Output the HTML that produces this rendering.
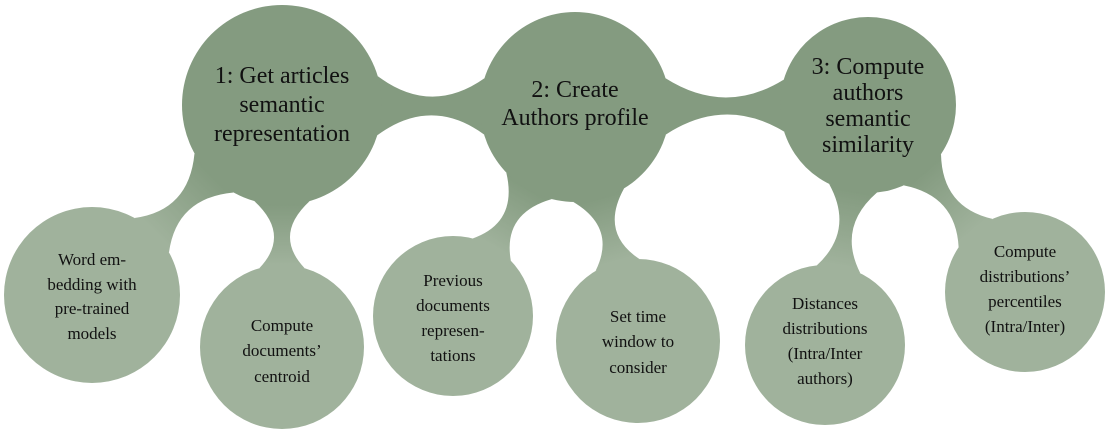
<!DOCTYPE html>
<html><head><meta charset="utf-8"><style>
html,body{margin:0;padding:0;background:#fff;}
svg{display:block;}
text{font-family:"Liberation Serif",serif;fill:#111;text-anchor:middle;}
.b{font-size:24px;}
.s{font-size:17px;}
</style></head><body>
<svg id="m" width="1108" height="437" viewBox="0 0 1108 437">
<defs id="d"></defs>
<g id="con"></g>
<g id="circ"></g>
<g>
<text class="b" x="282" y="83">1:  Get articles</text>
<text class="b" x="282" y="112">semantic</text>
<text class="b" x="282" y="141">representation</text>
<text class="b" x="575" y="97">2:  Create</text>
<text class="b" x="575" y="125">Authors profile</text>
<text class="b" x="868" y="74">3:  Compute</text>
<text class="b" x="868" y="100">authors</text>
<text class="b" x="868" y="126">semantic</text>
<text class="b" x="868" y="152">similarity</text>
<text class="s" x="92" y="265">Word em-</text>
<text class="s" x="92" y="290">bedding with</text>
<text class="s" x="92" y="314">pre-trained</text>
<text class="s" x="92" y="339">models</text>
<text class="s" x="282" y="331">Compute</text>
<text class="s" x="282" y="356">documents’</text>
<text class="s" x="282" y="382">centroid</text>
<text class="s" x="453" y="286">Previous</text>
<text class="s" x="453" y="311">documents</text>
<text class="s" x="453" y="336">represen-</text>
<text class="s" x="453" y="361">tations</text>
<text class="s" x="638" y="322">Set time</text>
<text class="s" x="638" y="347">window to</text>
<text class="s" x="638" y="373">consider</text>
<text class="s" x="825" y="309">Distances</text>
<text class="s" x="825" y="334">distributions</text>
<text class="s" x="825" y="359">(Intra/Inter</text>
<text class="s" x="825" y="384">authors)</text>
<text class="s" x="1025" y="257">Compute</text>
<text class="s" x="1025" y="282">distributions’</text>
<text class="s" x="1025" y="307">percentiles</text>
<text class="s" x="1025" y="332">(Intra/Inter)</text>
</g>
</svg>
<script>
var NS="http://www.w3.org/2000/svg";
var BIG="#849b80",SM="#a0b29c";
var C={a:[282,105,100,BIG],b:[575,107,95,BIG],c:[868,105,88,BIG],
d:[92,295,88,SM],e:[282,347,82,SM],f:[453,316,80,SM],g:[638,341,82,SM],h:[825,345,80,SM],i:[1025,292,80,SM]};
var E=[["a","b",-10,0.3,0.3],["b","c",-10,0.3,0.3],["a","d",-9,0.28,0.28],["a","e",-9,0.28,0.28],["b","f",-9,0.28,0.28],["b","g",-9,0.28,0.28],["c","h",-9,0.28,0.28],["c","i",-9,0.28,0.28]];
var d=document.getElementById("d"),con=document.getElementById("con"),circ=document.getElementById("circ");
E.forEach(function(e,k){
var A=C[e[0]],B=C[e[1]],dx=B[0]-A[0],dy=B[1]-A[1],L=Math.hypot(dx,dy),ux=dx/L,uy=dy/L,nx=-uy,ny=ux;
var ta=e[3],tb=e[4];
function P(c,s,t,sg){return [c[0]+c[2]*(Math.cos(t)*ux*s+Math.sin(t)*nx*sg),c[1]+c[2]*(Math.cos(t)*uy*s+Math.sin(t)*ny*sg)];}
var a1=P(A,1,ta,1),a2=P(A,1,ta,-1),b1=P(B,-1,tb,1),b2=P(B,-1,tb,-1);
var g0=A[2],g1=L-B[2],m=(g0+g1)/2,mx=A[0]+ux*m,my=A[1]+uy*m,w=e[2];
var p="M"+a1+" Q"+(mx+nx*w)+","+(my+ny*w)+" "+b1+" L"+b2+" Q"+(mx-nx*w)+","+(my-ny*w)+" "+a2+" Z";
var gr=document.createElementNS(NS,"linearGradient");gr.setAttribute("id","g"+k);gr.setAttribute("gradientUnits","userSpaceOnUse");
gr.setAttribute("x1",A[0]+ux*g0);gr.setAttribute("y1",A[1]+uy*g0);gr.setAttribute("x2",A[0]+ux*g1);gr.setAttribute("y2",A[1]+uy*g1);
[[0,A[3]],[1,B[3]]].forEach(function(s){var st=document.createElementNS(NS,"stop");st.setAttribute("offset",s[0]);st.setAttribute("stop-color",s[1]);gr.appendChild(st);});
d.appendChild(gr);
var pa=document.createElementNS(NS,"path");pa.setAttribute("d",p);pa.setAttribute("fill","url(#g"+k+")");con.appendChild(pa);
});
for(var key in C){var c=C[key],ci=document.createElementNS(NS,"circle");ci.setAttribute("cx",c[0]);ci.setAttribute("cy",c[1]);ci.setAttribute("r",c[2]);ci.setAttribute("fill",c[3]);circ.appendChild(ci);}
</script>
</body></html>
